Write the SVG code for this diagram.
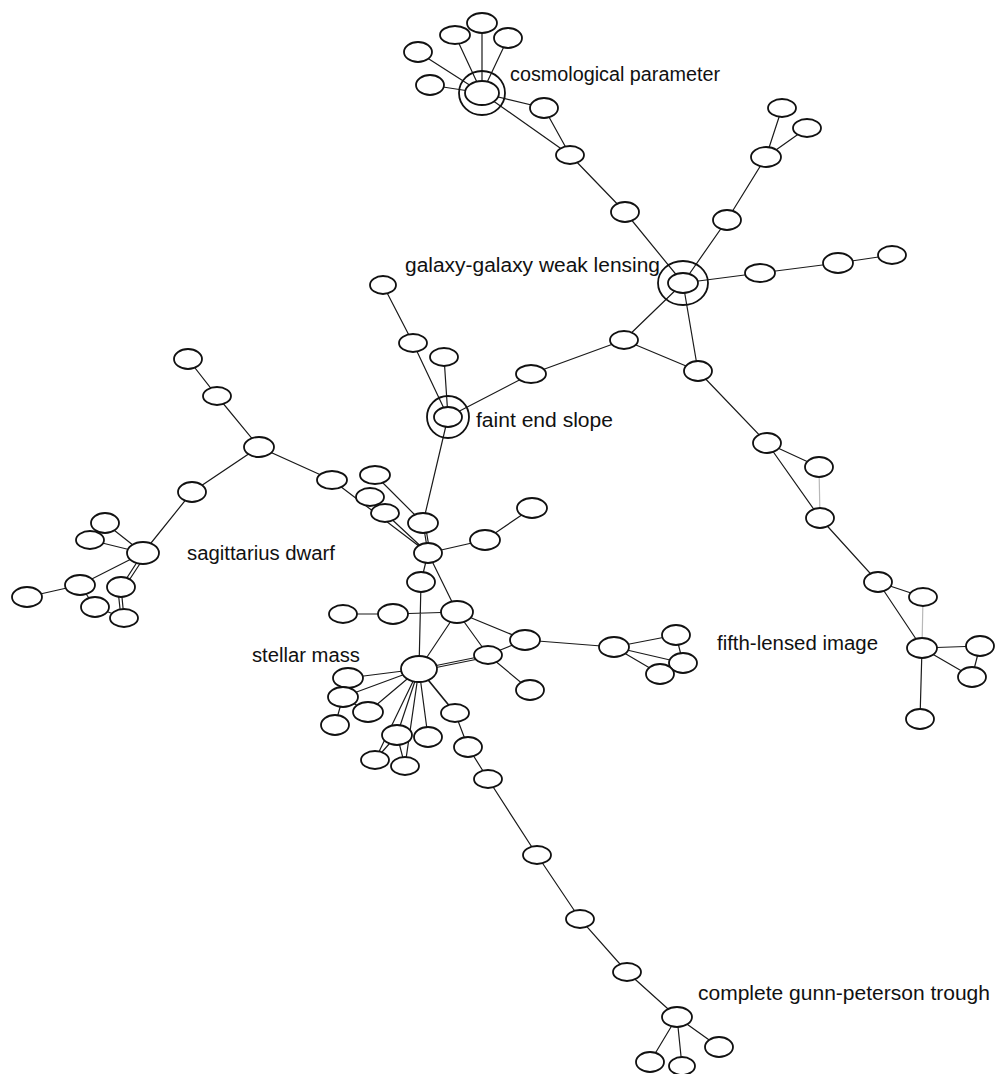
<svg xmlns="http://www.w3.org/2000/svg" width="995" height="1074" viewBox="0 0 995 1074">
<style>
.e{fill:none;stroke:#1a1a1a;stroke-width:1.2}
.eg{fill:none;stroke:#b8b8b8;stroke-width:1.2}
.n{fill:#fff;stroke:#111;stroke-width:1.8}
.h{fill:none;stroke:#111;stroke-width:1.8}
.t{font-family:"Liberation Sans",Arial,sans-serif;font-size:20px;fill:#111}
</style>
<rect width="995" height="1074" fill="#fff"/>
<g id="connectors">
<path class="e" d="M482,93L482,23M482,93L455,35M482,93L508,38M482,93L418,52M482,93L430,85M482,93L544,108M482,93L570,155M544,108L570,155M570,155L625,212L683,283"/>
<path class="e" d="M683,283L727,220L766,157L782,108M766,157L807,128M683,283L760,273L838,263L892,255M683,283L624,340M683,283L698,371M624,340L698,371M624,340L531,374L448,417M698,371L767,443"/>
<path class="e" d="M383,285L413,343L448,417M444,357L448,417M448,417L423,523"/>
<path class="e" d="M767,443L819,467M767,443L820,518L878,582L923,597M878,582L922,648L980,646M922,648L972,677M980,646L972,677M922,648L920,719"/>
<path class="eg" d="M819,467L820,518M923,597L922,648"/>
<path class="e" d="M188,359L217,396L259,447L332,480M259,447L192,492L143,553M105,523L143,553M90,540L143,553M143,553L80,585L27,597M143,553L121,587M141,556L119,590M145,556L124,588M80,585L95,607M121,587L124,618M118,590L121,618M95,607L124,618"/>
<path class="e" d="M332,480L428,553M375,475L423,523M385,513L428,553M370,497L385,513M423,523L428,553M425,523L430,553M428,553L485,540L532,508M428,553L421,582M428,553L457,612M421,582L419,669M343,614L393,614L457,612M457,612L419,669M457,612L525,640M457,612L488,655M419,669L488,655M419,671L488,657M488,655L525,640M488,655L530,690M525,640L614,647"/>
<path class="e" d="M419,669L348,678M419,669L343,697M419,669L368,712M419,669L397,735M419,669L428,737M419,669L375,760M419,669L405,766M419,669L455,713M421,671L457,715M343,697L368,712M343,697L335,725M397,735L375,760M397,735L405,766M455,713L468,747L488,779"/>
<path class="e" d="M614,647L676,635M614,647L683,663M614,647L660,674M676,635L683,663"/>
<path class="e" d="M488,779L537,855L580,919L627,972L677,1017L719,1047M677,1017L650,1062M677,1017L682,1066"/>
</g>
<g id="cosmological-parameter"><ellipse class="h" cx="482" cy="93" rx="23" ry="22"/><ellipse class="n" cx="482" cy="93" rx="17" ry="12"/></g>
<g id="galaxy-galaxy-weak-lensing"><ellipse class="h" cx="683" cy="283" rx="25" ry="22"/><ellipse class="n" cx="683" cy="283" rx="15" ry="10"/></g>
<g id="faint-end-slope"><ellipse class="h" cx="448" cy="417" rx="21" ry="21"/><ellipse class="n" cx="448" cy="417" rx="14" ry="10"/></g>
<g id="stellar-mass"><ellipse class="n" cx="419" cy="669" rx="18" ry="13"/></g>
<g id="nodes">
<ellipse id="t1" class="n" cx="482" cy="23" rx="15" ry="10"/>
<ellipse id="t2" class="n" cx="455" cy="35" rx="15" ry="9"/>
<ellipse id="t3" class="n" cx="508" cy="38" rx="14" ry="10"/>
<ellipse id="t4" class="n" cx="418" cy="52" rx="14" ry="10"/>
<ellipse id="t5" class="n" cx="430" cy="85" rx="14" ry="10"/>
<ellipse id="t6" class="n" cx="544" cy="108" rx="14" ry="10"/>
<ellipse id="t7" class="n" cx="570" cy="155" rx="14" ry="9"/>
<ellipse id="t8" class="n" cx="625" cy="212" rx="14" ry="10"/>
<ellipse id="g1" class="n" cx="727" cy="220" rx="14" ry="10"/>
<ellipse id="g2" class="n" cx="766" cy="157" rx="15" ry="10"/>
<ellipse id="g3" class="n" cx="782" cy="108" rx="14" ry="9"/>
<ellipse id="g4" class="n" cx="807" cy="128" rx="14" ry="9"/>
<ellipse id="g5" class="n" cx="760" cy="273" rx="15" ry="9"/>
<ellipse id="g6" class="n" cx="838" cy="263" rx="15" ry="10"/>
<ellipse id="g7" class="n" cx="892" cy="255" rx="14" ry="9"/>
<ellipse id="g8" class="n" cx="624" cy="340" rx="14" ry="9"/>
<ellipse id="g9" class="n" cx="698" cy="371" rx="14" ry="10"/>
<ellipse id="f1" class="n" cx="383" cy="285" rx="13" ry="9"/>
<ellipse id="f2" class="n" cx="413" cy="343" rx="14" ry="9"/>
<ellipse id="f3" class="n" cx="444" cy="357" rx="14" ry="9"/>
<ellipse id="f4" class="n" cx="531" cy="374" rx="15" ry="9"/>
<ellipse id="r1" class="n" cx="767" cy="443" rx="14" ry="10"/>
<ellipse id="r2" class="n" cx="819" cy="467" rx="14" ry="10"/>
<ellipse id="r3" class="n" cx="820" cy="518" rx="14" ry="10"/>
<ellipse id="r4" class="n" cx="878" cy="582" rx="14" ry="10"/>
<ellipse id="r5" class="n" cx="923" cy="597" rx="14" ry="9"/>
<ellipse id="r6" class="n" cx="922" cy="648" rx="15" ry="10"/>
<ellipse id="r7" class="n" cx="980" cy="646" rx="14" ry="10"/>
<ellipse id="r8" class="n" cx="972" cy="677" rx="14" ry="10"/>
<ellipse id="r9" class="n" cx="920" cy="719" rx="14" ry="10"/>
<ellipse id="l1" class="n" cx="188" cy="359" rx="14" ry="10"/>
<ellipse id="l2" class="n" cx="217" cy="396" rx="14" ry="9"/>
<ellipse id="l3" class="n" cx="259" cy="447" rx="15" ry="10"/>
<ellipse id="l4" class="n" cx="332" cy="480" rx="15" ry="9"/>
<ellipse id="l5" class="n" cx="192" cy="492" rx="14" ry="10"/>
<ellipse id="l6" class="n" cx="143" cy="553" rx="16" ry="11"/>
<ellipse id="l7" class="n" cx="105" cy="523" rx="14" ry="10"/>
<ellipse id="l8" class="n" cx="90" cy="540" rx="14" ry="9"/>
<ellipse id="l9" class="n" cx="80" cy="585" rx="15" ry="10"/>
<ellipse id="l10" class="n" cx="27" cy="597" rx="15" ry="10"/>
<ellipse id="l11" class="n" cx="121" cy="587" rx="14" ry="10"/>
<ellipse id="l12" class="n" cx="95" cy="607" rx="14" ry="10"/>
<ellipse id="l13" class="n" cx="124" cy="618" rx="14" ry="9"/>
<ellipse id="c1" class="n" cx="375" cy="475" rx="15" ry="9"/>
<ellipse id="c2" class="n" cx="370" cy="497" rx="14" ry="9"/>
<ellipse id="c3" class="n" cx="385" cy="513" rx="14" ry="9"/>
<ellipse id="c4" class="n" cx="423" cy="523" rx="15" ry="10"/>
<ellipse id="c5" class="n" cx="428" cy="553" rx="14" ry="10"/>
<ellipse id="c6" class="n" cx="485" cy="540" rx="15" ry="10"/>
<ellipse id="c7" class="n" cx="532" cy="508" rx="15" ry="10"/>
<ellipse id="c8" class="n" cx="421" cy="582" rx="14" ry="10"/>
<ellipse id="c9" class="n" cx="457" cy="612" rx="16" ry="11"/>
<ellipse id="c10" class="n" cx="393" cy="614" rx="15" ry="10"/>
<ellipse id="c11" class="n" cx="343" cy="614" rx="14" ry="9"/>
<ellipse id="c12" class="n" cx="525" cy="640" rx="15" ry="10"/>
<ellipse id="c13" class="n" cx="488" cy="655" rx="14" ry="9"/>
<ellipse id="c14" class="n" cx="530" cy="690" rx="14" ry="10"/>
<ellipse id="s1" class="n" cx="348" cy="678" rx="15" ry="10"/>
<ellipse id="s2" class="n" cx="343" cy="697" rx="15" ry="10"/>
<ellipse id="s3" class="n" cx="368" cy="712" rx="15" ry="10"/>
<ellipse id="s4" class="n" cx="335" cy="725" rx="14" ry="10"/>
<ellipse id="s5" class="n" cx="397" cy="735" rx="15" ry="10"/>
<ellipse id="s6" class="n" cx="428" cy="737" rx="14" ry="10"/>
<ellipse id="s7" class="n" cx="375" cy="760" rx="14" ry="9"/>
<ellipse id="s8" class="n" cx="405" cy="766" rx="14" ry="9"/>
<ellipse id="s9" class="n" cx="455" cy="713" rx="14" ry="9"/>
<ellipse id="s10" class="n" cx="468" cy="747" rx="14" ry="10"/>
<ellipse id="m1" class="n" cx="614" cy="647" rx="15" ry="10"/>
<ellipse id="m2" class="n" cx="676" cy="635" rx="14" ry="10"/>
<ellipse id="m3" class="n" cx="683" cy="663" rx="14" ry="10"/>
<ellipse id="m4" class="n" cx="660" cy="674" rx="14" ry="10"/>
<ellipse id="b1" class="n" cx="488" cy="779" rx="14" ry="9"/>
<ellipse id="b2" class="n" cx="537" cy="855" rx="14" ry="9"/>
<ellipse id="b3" class="n" cx="580" cy="919" rx="14" ry="9"/>
<ellipse id="b4" class="n" cx="627" cy="972" rx="14" ry="9"/>
<ellipse id="b5" class="n" cx="677" cy="1017" rx="15" ry="10"/>
<ellipse id="b6" class="n" cx="719" cy="1047" rx="14" ry="10"/>
<ellipse id="b7" class="n" cx="650" cy="1062" rx="14" ry="10"/>
<ellipse id="b8" class="n" cx="682" cy="1066" rx="13" ry="9"/>
</g>
<g id="labels">
<text class="t" x="510" y="81" textLength="210" lengthAdjust="spacingAndGlyphs">cosmological parameter</text>
<text class="t" x="405" y="272" textLength="255" lengthAdjust="spacingAndGlyphs">galaxy-galaxy weak lensing</text>
<text class="t" x="476" y="427" textLength="137" lengthAdjust="spacingAndGlyphs">faint end slope</text>
<text class="t" x="187" y="560" textLength="148" lengthAdjust="spacingAndGlyphs">sagittarius dwarf</text>
<text class="t" x="252" y="662" textLength="108" lengthAdjust="spacingAndGlyphs">stellar mass</text>
<text class="t" x="717" y="650" textLength="161" lengthAdjust="spacingAndGlyphs">fifth-lensed image</text>
<text class="t" x="698" y="1000" textLength="292" lengthAdjust="spacingAndGlyphs">complete gunn-peterson trough</text>
</g>
</svg>
